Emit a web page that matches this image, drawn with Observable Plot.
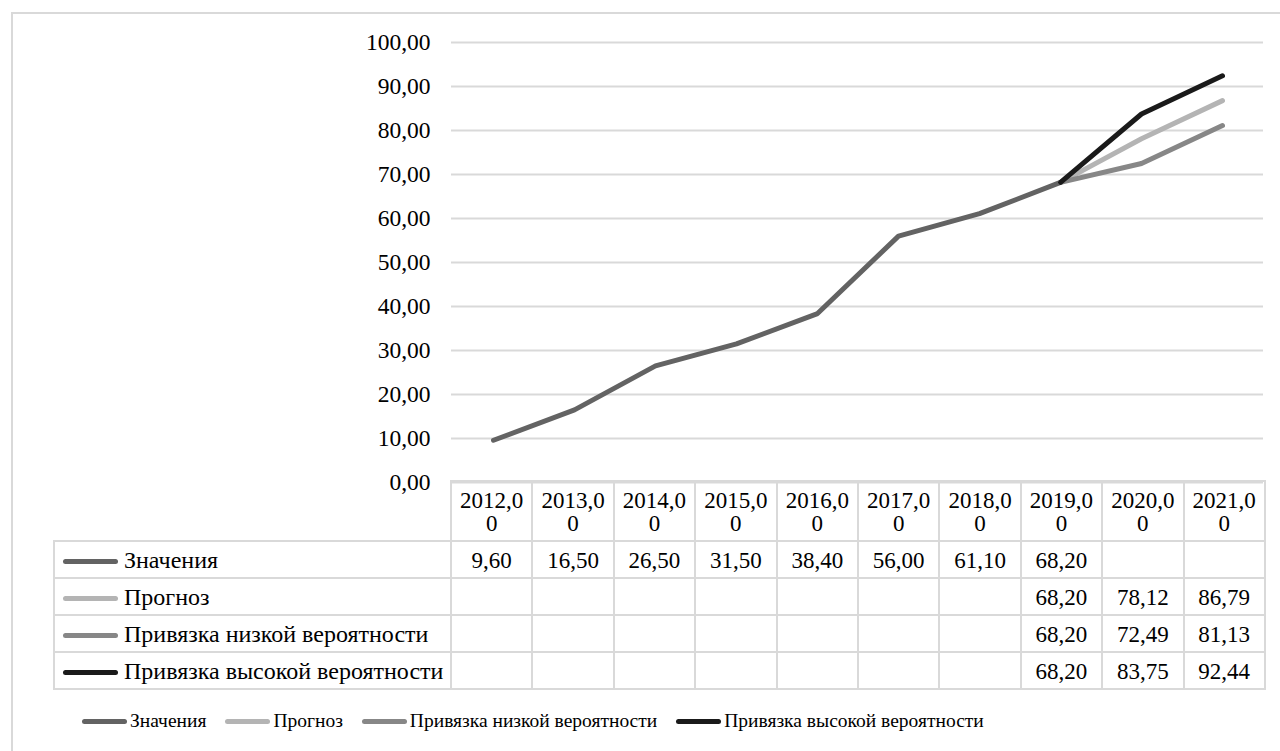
<!DOCTYPE html>
<html>
<head>
<meta charset="utf-8">
<script src="https://cdn.jsdelivr.net/npm/d3@7"></script>
<script src="https://cdn.jsdelivr.net/npm/@observablehq/plot@0.6"></script>
<style>
  html, body { margin: 0; padding: 0; background: #fff; }
  #wrap { position: relative; width: 1280px; height: 751px; overflow: hidden; font-family: "Liberation Serif", "Times New Roman", serif; color: #000; }
  #frame { position: absolute; left: 11px; top: 12px; width: 1400px; height: 900px; border: 2px solid #d9d9d9; box-sizing: border-box; }
  #chart { position: absolute; left: 0; top: 0; }
  #tbl { position: absolute; left: 53px; top: 480px; border-collapse: collapse; table-layout: fixed; width: 1211px; font-size: 23px; font-family: "Liberation Serif", "Times New Roman", serif; }
  #tbl td { border: 2px solid #d9d9d9; padding: 0; text-align: center; line-height: 23px; white-space: nowrap; overflow: hidden; }
  #tbl tr.hdr td { height: 57px; padding-top: 1px; }
  #tbl tr.row td { height: 33px; padding-top: 2px; }
  #tbl td.lbl { text-align: left; padding-left: 8px; font-size: 24px; }
  #tbl td.empty { border-top: none; border-left: none; }
  .mk { display: inline-block; width: 55px; height: 5px; border-radius: 3px; vertical-align: middle; margin-right: 6px; position: relative; top: -1px; }
  #legend { position: absolute; left: 82px; top: 710px; display: flex; gap: 19px; font-size: 19.5px; align-items: center; }
  #legend .it { display: flex; align-items: center; white-space: nowrap; }
  #legend .lm { display: inline-block; width: 45px; height: 5px; border-radius: 3px; margin-right: 3px; }
</style>
</head>
<body>
<div id="wrap">
  <div id="frame"></div>
  <div id="chart"></div>
  <table id="tbl"></table>
  <div id="legend"></div>
</div>
<script>
// ---- data ----
const years = [2012, 2013, 2014, 2015, 2016, 2017, 2018, 2019, 2020, 2021];
const seriesNames = ["Значения", "Прогноз", "Привязка низкой вероятности", "Привязка высокой вероятности"];
const seriesColors = ["#636363", "#b4b4b4", "#878787", "#1a1a1a"];
const values   = [9.60, 16.50, 26.50, 31.50, 38.40, 56.00, 61.10, 68.20, null, null];
const forecast = [null, null, null, null, null, null, null, 68.20, 78.12, 86.79];
const lowProb  = [null, null, null, null, null, null, null, 68.20, 72.49, 81.13];
const highProb = [null, null, null, null, null, null, null, 68.20, 83.75, 92.44];
const yTicks = [0, 10, 20, 30, 40, 50, 60, 70, 80, 90, 100];

const seriesData = [values, forecast, lowProb, highProb];
const fmt = v => v.toFixed(2).replace(".", ",");

const rows = [];
seriesData.forEach((arr, si) => {
  arr.forEach((v, i) => {
    if (v != null) rows.push({series: seriesNames[si], year: years[i], value: v});
  });
});

const chart = Plot.plot({
  width: 1280,
  height: 500,
  marginLeft: 451,
  marginRight: 17,
  marginTop: 42,
  marginBottom: 18,
  x: {type: "point", domain: years, padding: 0.5, axis: null},
  y: {domain: [0, 100], axis: null},
  color: {domain: seriesNames, range: seriesColors},
  style: {fontFamily: "'Liberation Serif', 'Times New Roman', serif", fontSize: "23px", color: "#000", background: "none", overflow: "visible"},
  marks: [
    Plot.gridY(yTicks, {stroke: "#d9d9d9", strokeOpacity: 1, strokeWidth: 2}),
    Plot.axisY(yTicks, {tickSize: 0, tickPadding: 21, tickFormat: fmt, fontSize: 23.5, label: null}),
    Plot.line(rows, {x: "year", y: "value", z: "series", stroke: "series", strokeWidth: 5, strokeLinecap: "round", strokeLinejoin: "round"})
  ]
});
document.getElementById("chart").appendChild(chart);

// ---- data table ----
const tbl = document.getElementById("tbl");
const cg = document.createElement("colgroup");
cg.innerHTML = `<col style="width:397px">` + years.map(() => `<col style="width:81.4px">`).join("");
tbl.appendChild(cg);
const hdr = document.createElement("tr");
hdr.className = "hdr";
hdr.innerHTML = `<td class="empty"></td>` + years.map(y => {
  const s = fmt(y);
  return `<td>${s.slice(0, 6)}<br>${s.slice(6)}</td>`;
}).join("");
tbl.appendChild(hdr);
seriesData.forEach((arr, si) => {
  const tr = document.createElement("tr");
  tr.className = "row";
  tr.innerHTML = `<td class="lbl"><span class="mk" style="background:${seriesColors[si]}"></span>${seriesNames[si]}</td>` +
    arr.map(v => `<td>${v == null ? "" : fmt(v)}</td>`).join("");
  tbl.appendChild(tr);
});

// ---- legend ----
const lg = document.getElementById("legend");
seriesNames.forEach((n, i) => {
  const it = document.createElement("div");
  it.className = "it";
  it.innerHTML = `<span class="lm" style="background:${seriesColors[i]}"></span><span>${n}</span>`;
  lg.appendChild(it);
});
</script>
</body>
</html>
